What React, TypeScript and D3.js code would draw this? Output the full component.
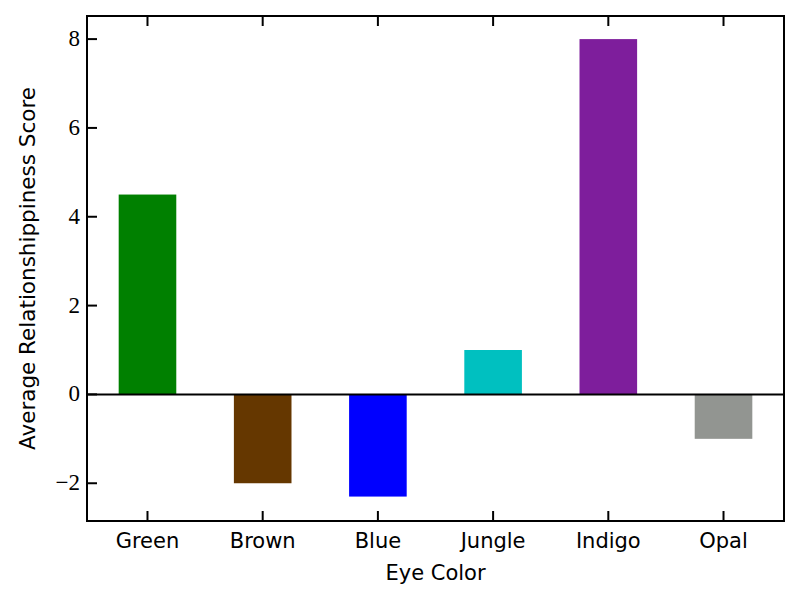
import * as d3 from "d3";

const categories = ["Green", "Brown", "Blue", "Jungle", "Indigo", "Opal"];
const scores = [4.5, -2, -2.3, 1, 8, -1];
const barColors = ["#008000", "#653700", "#0000ff", "#00c0c0", "#7e1e9c", "#929591"];
const yTicks = [-2, 0, 2, 4, 6, 8];

const W = 800;
const H = 600;
const M = { left: 87, right: 16, top: 16, bottom: 79 };

export default function App() {
  const x = d3
    .scaleLinear()
    .domain([-0.525, categories.length - 1 + 0.525])
    .range([M.left, W - M.right]);
  const y = d3.scaleLinear().domain([-2.85, 8.52]).range([H - M.bottom, M.top]);
  const bw = x(0.25) - x(-0.25);
  const tick = 10;
  const serif = "'Liberation Serif', 'DejaVu Serif', serif";
  const sans = "'DejaVu Sans', sans-serif";

  return (
    <svg width={W} height={H} style={{ display: "block", margin: -8 }}>
      <rect width={W} height={H} fill="#fff" />
      {scores.map((v, i) => (
        <rect
          key={categories[i]}
          x={x(i) - bw / 2}
          y={y(Math.max(0, v))}
          width={bw}
          height={Math.abs(y(v) - y(0))}
          fill={barColors[i]}
        />
      ))}
      {/* zero line */}
      <line x1={x.range()[0]} x2={x.range()[1]} y1={y(0)} y2={y(0)} stroke="#000" strokeWidth={2} />
      {/* ticks */}
      {categories.map((c, i) => (
        <g key={c}>
          <line x1={x(i)} x2={x(i)} y1={y.range()[0]} y2={y.range()[0] - tick} stroke="#000" strokeWidth={2} />
          <line x1={x(i)} x2={x(i)} y1={y.range()[1]} y2={y.range()[1] + tick} stroke="#000" strokeWidth={2} />
          <text x={x(i)} y={y.range()[0] + 27} textAnchor="middle" fontFamily={sans} fontSize={21}>
            {c}
          </text>
        </g>
      ))}
      {yTicks.map((t) => (
        <g key={t}>
          <line x1={x.range()[0]} x2={x.range()[0] + tick} y1={y(t)} y2={y(t)} stroke="#000" strokeWidth={2} />
          <text x={x.range()[0] - 7} y={y(t) + 7} textAnchor="end" fontFamily={serif} fontSize={23}>
            {t < 0 ? `\u2212${Math.abs(t)}` : t}
          </text>
        </g>
      ))}
      <rect
        x={x.range()[0]}
        y={y.range()[1]}
        width={x.range()[1] - x.range()[0]}
        height={y.range()[0] - y.range()[1]}
        fill="none"
        stroke="#000"
        strokeWidth={2}
      />
      <text x={(x.range()[0] + x.range()[1]) / 2} y={580} textAnchor="middle" fontFamily={sans} fontSize={21}>
        Eye Color
      </text>
      <text
        transform={`translate(35,${(y.range()[0] + y.range()[1]) / 2}) rotate(-90)`}
        textAnchor="middle"
        fontFamily={sans}
        fontSize={21.5}
      >
        Average Relationshippiness Score
      </text>
    </svg>
  );
}
